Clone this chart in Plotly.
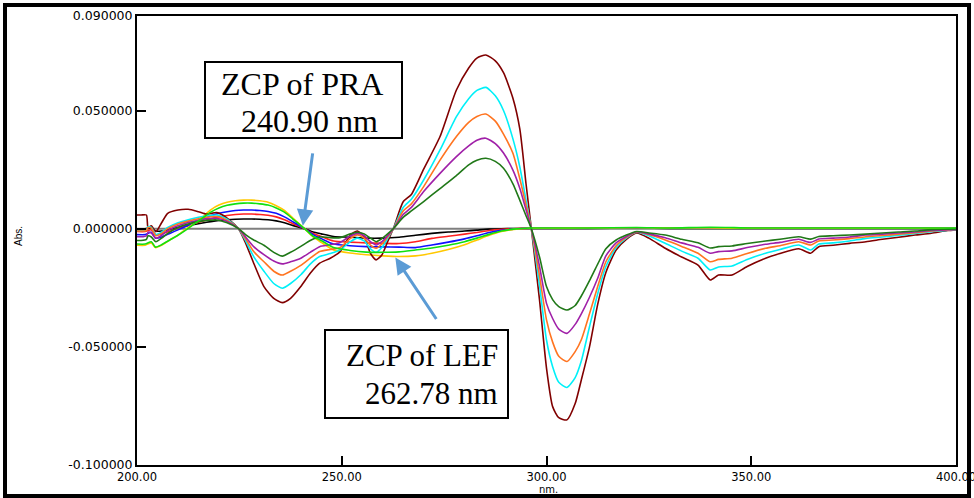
import plotly.graph_objects as go

# ---------------- data ----------------
wl_a = [200, 201, 202.3, 202.7, 203.5, 204.6, 206, 207.5, 210, 212.5, 215, 217, 219.5, 222, 224.8,
        226.5, 228.5, 231, 233.4, 235.5, 237.5, 240, 242.3, 244.6, 247.2, 249.6, 252.1, 253.8, 255.5,
        257, 258.4, 259.8, 261.2, 262.7, 265, 267, 270, 274, 278, 281, 283, 285.2, 287.5, 289.5,
        291.8, 293.5, 295, 296.3, 298.3, 300, 301.5, 303, 305, 307, 308.5, 310.5, 312.5, 314.5, 317,
        319.5, 322, 325, 329, 333, 337, 340, 342, 345.3, 349, 353.5, 357, 361.6, 364.5, 366.5, 370,
        374, 378, 382, 386, 390, 394, 398, 400]

maroon = [0.0058, 0.0058, 0.0058, 0.0002, 0.0012, -0.0013, 0.0025, 0.0065, 0.0079, 0.0082, 0.0072, 0.0062, 0.0068, 0.0045, 0.0,
          -0.0060, -0.0146, -0.0245, -0.0295, -0.0313, -0.0295, -0.0245, -0.0189, -0.0146, -0.0125, -0.0097, -0.0027, -0.0010, -0.0034,
          -0.0104, -0.0132, -0.0111, -0.0055, 0.0005, 0.0114, 0.0145, 0.0252, 0.0390, 0.0587, 0.0680, 0.0722, 0.0735, 0.0710, 0.0660,
          0.0552, 0.0420, 0.0190, 0.0, -0.0302, -0.0590, -0.0753, -0.0800, -0.0809, -0.0740, -0.0640, -0.0500, -0.0320, -0.0185, -0.0090,
          -0.0045, -0.0018, -0.0040, -0.0083, -0.0120, -0.0154, -0.0217, -0.0196, -0.0196, -0.0160, -0.0125, -0.0105, -0.0085, -0.0104, -0.0076, -0.0070,
          -0.0062, -0.0055, -0.0045, -0.0036, -0.0027, -0.0019, -0.0008, -0.0005]

cyan = [-0.0008, -0.0008, -0.0005, 0.0008, 0.0005, -0.0025, -0.0015, 0.0005, 0.0025, 0.0038, 0.0048, 0.0054, 0.0058, 0.0040, 0.0,
        -0.0050, -0.0118, -0.0180, -0.0232, -0.0252, -0.0232, -0.0195, -0.0150, -0.0118, -0.0105, -0.0090, -0.0055, -0.0040, -0.0052,
        -0.0085, -0.0100, -0.0080, -0.0042, 0.0003, 0.0090, 0.0125, 0.0206, 0.0333, 0.0474, 0.0550, 0.0585, 0.0598, 0.0562, 0.0500,
        0.0380, 0.0260, 0.0120, 0.0, -0.0240, -0.0471, -0.0584, -0.0650, -0.0672, -0.0630, -0.0560, -0.0415, -0.0275, -0.0160, -0.0080,
        -0.0040, -0.0015, -0.0030, -0.0062, -0.0095, -0.0125, -0.0175, -0.0162, -0.0158, -0.0130, -0.0104, -0.0088, -0.0069, -0.0090, -0.0065, -0.0060,
        -0.0052, -0.0041, -0.0035, -0.0028, -0.0020, -0.0013, -0.0006, -0.0004]

orange = [-0.0010, -0.0010, -0.0008, 0.0005, 0.0002, -0.0030, -0.0020, 0.0000, 0.0020, 0.0032, 0.0042, 0.0048, 0.0051, 0.0035, 0.0,
          -0.0042, -0.0097, -0.0140, -0.0180, -0.0196, -0.0180, -0.0155, -0.0125, -0.0097, -0.0088, -0.0080, -0.0041, -0.0026, -0.0040,
          -0.0070, -0.0083, -0.0065, -0.0035, 0.0002, 0.0075, 0.0105, 0.0178, 0.0290, 0.0390, 0.0450, 0.0475, 0.0485, 0.0455, 0.0400,
          0.0319, 0.0210, 0.0100, 0.0, -0.0200, -0.0386, -0.0480, -0.0540, -0.0562, -0.0520, -0.0470, -0.0360, -0.0245, -0.0140, -0.0072,
          -0.0037, -0.0014, -0.0025, -0.0048, -0.0075, -0.0104, -0.0140, -0.0130, -0.0125, -0.0105, -0.0083, -0.0072, -0.0055, -0.0069, -0.0052, -0.0048,
          -0.0042, -0.0034, -0.0029, -0.0023, -0.0017, -0.0010, -0.0005, -0.0003]

purple = [-0.0034, -0.0034, -0.0030, -0.0015, -0.0018, -0.0040, -0.0028, -0.0008, 0.0012, 0.0026, 0.0036, 0.0042, 0.0044, 0.0030, 0.0,
          -0.0035, -0.0076, -0.0110, -0.0137, -0.0149, -0.0140, -0.0125, -0.0100, -0.0076, -0.0068, -0.0058, -0.0031, -0.0020, -0.0030,
          -0.0055, -0.0069, -0.0055, -0.0030, 0.0002, 0.0060, 0.0090, 0.0157, 0.0234, 0.0305, 0.0350, 0.0374, 0.0383, 0.0360, 0.0320,
          0.0248, 0.0170, 0.0080, 0.0, -0.0160, -0.0316, -0.0380, -0.0425, -0.0443, -0.0405, -0.0360, -0.0290, -0.0210, -0.0115, -0.0060,
          -0.0033, -0.0013, -0.0022, -0.0038, -0.0060, -0.0079, -0.0104, -0.0097, -0.0094, -0.0080, -0.0066, -0.0058, -0.0045, -0.0058, -0.0044, -0.0040,
          -0.0035, -0.0027, -0.0023, -0.0018, -0.0014, -0.0008, -0.0004, -0.0003]

dkgreen = [-0.0050, -0.0050, -0.0045, -0.0030, -0.0035, -0.0055, -0.0040, -0.0020, 0.0005, 0.0020, 0.0030, 0.0035, 0.0037, 0.0025, 0.0,
           -0.0025, -0.0048, -0.0070, -0.0100, -0.0116, -0.0100, -0.0075, -0.0050, -0.0034, -0.0038, -0.0038, -0.0022, -0.0015, -0.0022,
           -0.0040, -0.0055, -0.0042, -0.0022, 0.0002, 0.0048, 0.0075, 0.0115, 0.0170, 0.0225, 0.0270, 0.0290, 0.0298, 0.0285, 0.0256,
           0.0190, 0.0120, 0.0055, 0.0, -0.0120, -0.0245, -0.0300, -0.0330, -0.0344, -0.0325, -0.0285, -0.0220, -0.0150, -0.0085, -0.0048,
           -0.0027, -0.0012, -0.0018, -0.0027, -0.0045, -0.0060, -0.0082, -0.0076, -0.0073, -0.0063, -0.0052, -0.0045, -0.0034, -0.0044, -0.0033, -0.0030,
           -0.0027, -0.0023, -0.0018, -0.0014, -0.0010, -0.0004, -0.0002, -0.0001]

wl_b = [200, 202, 203.5, 204.5, 206, 208, 210, 212, 214, 216, 218, 220, 222, 224, 226, 228, 230, 232, 234, 236, 238,
        240.9, 243, 245, 248, 252, 256, 260, 264, 268, 272, 276, 280, 283, 286, 289, 292, 296, 300, 310, 322, 330,
        340, 350, 360, 370, 380, 390, 400]

yellow = [-0.0070, -0.0070, -0.0060, -0.0080, -0.0070, -0.0048, -0.0027, -0.0002, 0.0023, 0.0050, 0.0080, 0.0100, 0.0112, 0.0118,
          0.0121, 0.0121, 0.0118, 0.0112, 0.0097, 0.0077, 0.0046, 0.0, -0.0035, -0.0058, -0.0090, -0.0103, -0.0110, -0.0115, -0.0118,
          -0.0115, -0.0104, -0.0088, -0.0068, -0.0048, -0.0028, -0.0012, -0.0003, 0.0002, 0.0002, 0.0003, 0.0004, 0.0003, 0.0003,
          0.0002, 0.0002, 0.0002, 0.0002, 0.0002, 0.0002]

lime = [-0.0065, -0.0065, -0.0055, -0.0078, -0.0068, -0.0048, -0.0028, -0.0005, 0.0020, 0.0045, 0.0070, 0.0088, 0.0099, 0.0105,
        0.0108, 0.0108, 0.0105, 0.0100, 0.0088, 0.0070, 0.0042, 0.0, -0.0032, -0.0050, -0.0080, -0.0092, -0.0099, -0.0100, -0.0098,
        -0.0090, -0.0082, -0.0070, -0.0055, -0.0040, -0.0024, -0.0010, -0.0002, 0.0003, 0.0003, 0.0003, 0.0005, 0.0003, 0.0006,
        0.0003, 0.0003, 0.0003, 0.0003, 0.0003, 0.0003]

blue = [-0.0025, -0.0025, -0.0015, -0.0040, -0.0035, -0.0020, -0.0005, 0.0010, 0.0025, 0.0040, 0.0055, 0.0065, 0.0072, 0.0077,
        0.0079, 0.0079, 0.0077, 0.0073, 0.0065, 0.0050, 0.0030, 0.0, -0.0025, -0.0042, -0.0065, -0.0072, -0.0076, -0.0077, -0.0078,
        -0.0080, -0.0069, -0.0057, -0.0043, -0.0030, -0.0016, -0.0007, -0.0002, 0.0002, 0.0002, 0.0002, 0.0003, 0.0002, 0.0002,
        0.0002, 0.0002, 0.0002, 0.0002, 0.0002, 0.0002]

red = [-0.0012, -0.0012, -0.0005, -0.0025, -0.0022, -0.0010, 0.0002, 0.0012, 0.0022, 0.0032, 0.0042, 0.0050, 0.0056, 0.0060,
       0.0062, 0.0062, 0.0060, 0.0057, 0.0050, 0.0038, 0.0022, 0.0, -0.0020, -0.0033, -0.0052, -0.0057, -0.0060, -0.0062, -0.0063,
       -0.0055, -0.0041, -0.0032, -0.0023, -0.0016, -0.0008, -0.0003, 0.0000, 0.0002, 0.0002, 0.0002, 0.0003, 0.0002, 0.0002,
       0.0002, 0.0002, 0.0002, 0.0002, 0.0002, 0.0002]

black = [0.0000, 0.0000, 0.0003, -0.0010, -0.0010, -0.0003, 0.0005, 0.0012, 0.0018, 0.0024, 0.0030, 0.0035, 0.0038, 0.0040,
         0.0041, 0.0041, 0.0040, 0.0038, 0.0033, 0.0025, 0.0014, 0.0, -0.0014, -0.0022, -0.0033, -0.0036, -0.0040, -0.0040, -0.0036,
         -0.0028, -0.0020, -0.0014, -0.0010, -0.0006, -0.0002, 0.0000, 0.0001, 0.0001, 0.0001, 0.0001, 0.0002, 0.0001, 0.0001,
         0.0001, 0.0001, 0.0001, 0.0001, 0.0001, 0.0001]

x_ticks = [200, 250, 300, 350, 400]
x_tick_labels = ["200.00", "250.00", "300.00", "350.00", "400.00"]
y_ticks = [-0.1, -0.05, 0.0, 0.05, 0.09]
y_tick_labels = ["-0.100000", "-0.050000", "0.000000", "0.050000", "0.090000"]

zcp_pra = 240.90
zcp_lef = 262.78

# ---------------- figure ----------------
W, H = 974, 498
ML, MR, MT, MB = 137, 18, 16, 33
PW, PH = W - ML - MR, H - MT - MB


def px(X):
    return (X - ML) / PW


def py(Y):
    return (H - MB - Y) / PH


fig = go.Figure()

series_a = [("maroon", maroon, "#800000"), ("cyan", cyan, "#00F0F8"), ("orange", orange, "#FF7420"),
            ("purple", purple, "#A020A8"), ("dkgreen", dkgreen, "#207818")]
series_b = [("black", black, "#000000"), ("red", red, "#FF2020"), ("blue", blue, "#1010FF"),
            ("yellow", yellow, "#FFC800"), ("lime", lime, "#10E010")]

for name, vals, col in series_b[:4]:
    fig.add_trace(go.Scatter(x=wl_b, y=vals, mode="lines", name=name,
                             line=dict(color=col, width=1.6, shape="spline", smoothing=0.6)))
for name, vals, col in series_a:
    fig.add_trace(go.Scatter(x=wl_a, y=vals, mode="lines", name=name,
                             line=dict(color=col, width=1.6, shape="spline", smoothing=0.6)))
name, vals, col = series_b[4]
fig.add_trace(go.Scatter(x=wl_b, y=vals, mode="lines", name=name,
                         line=dict(color=col, width=1.6, shape="spline", smoothing=0.6)))

shapes = [
    dict(type="line", xref="x", yref="y", x0=200, x1=400, y0=0, y1=0,
         line=dict(color="#7f7f7f", width=2), layer="below"),
    # outer frame
    dict(type="rect", xref="paper", yref="paper", x0=px(5), x1=px(969), y0=py(496), y1=py(5),
         line=dict(color="black", width=4), fillcolor="rgba(0,0,0,0)"),
    # annotation boxes
    dict(type="rect", xref="paper", yref="paper", x0=px(205), x1=px(402), y0=py(138), y1=py(62),
         line=dict(color="black", width=2), fillcolor="white", layer="above"),
    dict(type="rect", xref="paper", yref="paper", x0=px(325), x1=px(508), y0=py(418), y1=py(330),
         line=dict(color="black", width=2), fillcolor="white", layer="above"),
]

serif1 = dict(family="Liberation Serif", size=32, color="black")
serif2 = dict(family="Liberation Serif", size=31, color="black")


def label(X, Y, txt, font, angle=0):
    return dict(xref="paper", yref="paper", x=px(X), y=py(Y), text=txt, showarrow=False,
                xanchor="center", yanchor="middle", textangle=angle, font=font)


ann = [
    label(302, 84, "ZCP of PRA", serif1),
    label(309, 121, f"{zcp_pra:.2f} nm", serif1),
    label(422, 355, "ZCP of LEF", serif2),
    label(431, 393, f"{zcp_lef:.2f} nm", serif2),
    # arrows
    dict(xref="x", yref="y", x=zcp_pra - 0.4, y=0.0012, ax=10, ay=-74, axref="pixel", ayref="pixel",
         text="", showarrow=True, arrowhead=2, arrowsize=1.1, arrowwidth=3, arrowcolor="#5B9BD5"),
    dict(xref="x", yref="y", x=zcp_lef + 0.3, y=-0.0122, ax=42, ay=63, axref="pixel", ayref="pixel",
         text="", showarrow=True, arrowhead=2, arrowsize=1.1, arrowwidth=3, arrowcolor="#5B9BD5"),
    # axis titles
    label(19, 236, "Abs.", dict(family="Liberation Sans", size=10, color="black"), angle=-90),
    label(548, 489.5, "nm.", dict(family="DejaVu Sans", size=10, color="black")),
]

fig.update_layout(
    width=W, height=H, margin=dict(l=ML, r=MR, t=MT, b=MB, autoexpand=False),
    paper_bgcolor="white", plot_bgcolor="white", showlegend=False,
    shapes=shapes, annotations=ann,
    xaxis=dict(range=[200, 400], tickvals=x_ticks, ticktext=x_tick_labels, ticks="inside", ticklen=9,
               tickwidth=1.5, tickcolor="black", showline=True, linecolor="black", linewidth=2, mirror=True,
               showgrid=False, zeroline=False, ticklabeloverflow="allow", automargin=False,
               tickfont=dict(family="DejaVu Sans", size=11.5, color="black")),
    yaxis=dict(range=[-0.1, 0.09], tickvals=y_ticks, ticktext=y_tick_labels, ticks="inside", ticklen=9,
               tickwidth=1.5, tickcolor="black", showline=True, linecolor="black", linewidth=2, mirror=True,
               showgrid=False, zeroline=False, ticklabeloverflow="allow", automargin=False,
               tickfont=dict(family="DejaVu Sans", size=12.5, color="black")),
)

fig.write_html("out.html")
